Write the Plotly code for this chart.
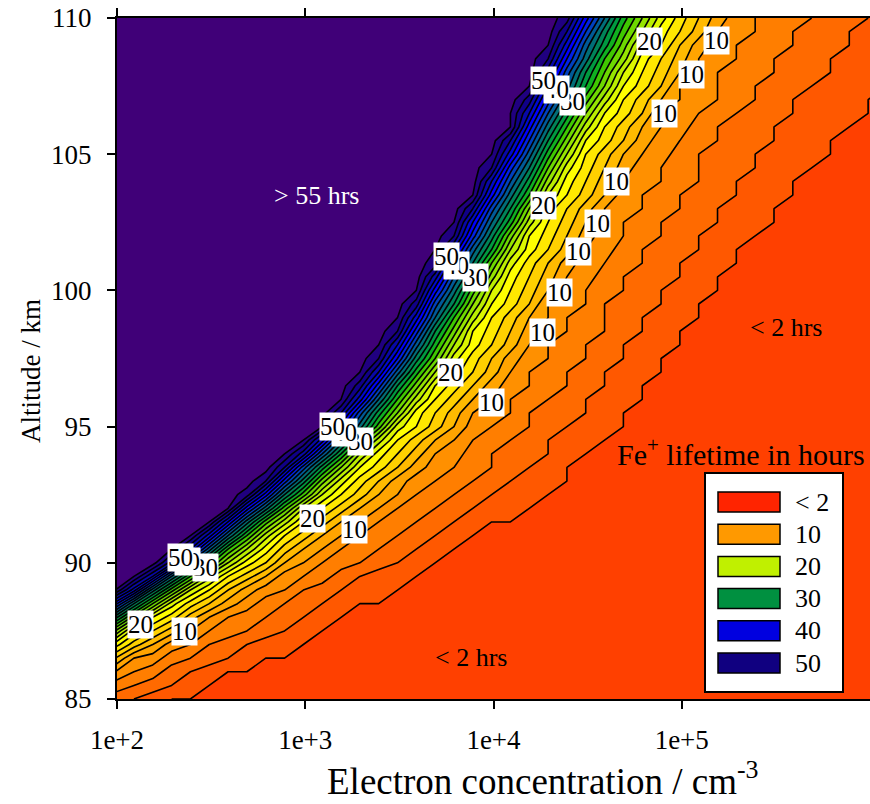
import numpy as np
import plotly.graph_objects as go

# ---------------- data ----------------
# altitude rows (km)
ALT = [85, 87.5, 90, 92.5, 95, 97.5, 100, 102.5, 105, 107.5, 110]
# log10(electron concentration) where each lifetime contour (hours) crosses each row
LEVELS = [54, 50, 40, 30, 20, 10, 8, 6, 4, 2]
POS_54 = [1.12, 1.67, 2.23, 2.68, 3.09, 3.37, 3.60, 3.81, 4.01, 4.20, 4.38]
POS_50 = [1.17, 1.72, 2.28, 2.73, 3.14, 3.42, 3.64, 3.85, 4.05, 4.24, 4.42]
POS_40 = [1.27, 1.82, 2.38, 2.84, 3.25, 3.53, 3.75, 3.96, 4.17, 4.37, 4.55]
POS_30 = [1.38, 1.94, 2.50, 2.97, 3.37, 3.66, 3.88, 4.10, 4.31, 4.52, 4.71]
POS_20 = [1.50, 2.07, 2.65, 3.12, 3.51, 3.80, 4.02, 4.23, 4.44, 4.69, 4.90]
POS_10 = [1.70, 2.37, 2.97, 3.46, 3.85, 4.13, 4.35, 4.56, 4.76, 5.00, 5.22]
POS_8 = [1.81, 2.50, 3.10, 3.61, 4.00, 4.27, 4.50, 4.72, 4.94, 5.19, 5.42]
POS_6 = [1.94, 2.67, 3.25, 3.80, 4.18, 4.45, 4.68, 4.92, 5.13, 5.40, 5.66]
POS_4 = [2.10, 2.87, 3.44, 4.02, 4.40, 4.67, 4.90, 5.16, 5.43, 5.72, 5.98]
POS_2 = [2.29, 3.12, 3.67, 4.30, 4.67, 4.93, 5.17, 5.47, 5.80, 6.14, 6.45]

# model grid of the original calculation (read from the staircase steps):
GRID_LOGX0, GRID_DLOGX, GRID_NX = 1.99, 0.1, 42   # log10 cm^-3
GRID_ALT0, GRID_DALT, GRID_NALT = 85.0, 0.5, 51   # km

# contour labels: text, log10(x), altitude
LBL_TEXT = ["30", "40", "50", "30", "40", "50", "30", "40", "50", "30", "40", "50",
            "20", "20", "20", "20", "20",
            "10", "10", "10", "10", "10", "10", "10", "10", "10", "10", "10"]
LBL_LOGX = [2.468, 2.372, 2.335, 3.296, 3.211, 3.147, 3.907, 3.806, 3.748, 4.417, 4.332, 4.268,
            2.127, 3.036, 3.769, 4.268, 4.831,
            2.361, 3.259, 3.992, 4.258, 4.353, 4.449, 4.555, 4.651, 4.906, 5.054, 5.182]
LBL_ALT = [89.81, 90.03, 90.21, 94.47, 94.77, 94.99, 100.49, 100.90, 101.26, 106.95, 107.36, 107.72,
           87.75, 91.64, 96.97, 103.10, 109.12,
           87.46, 91.24, 95.87, 98.47, 99.94, 101.41, 102.44, 103.98, 106.48, 107.94, 109.19]

LEGEND_TEXT = ["< 2", "10", "20", "30", "40", "50"]
LEGEND_COLORS = ["#FF2400", "#FF9900", "#C0F000", "#009040", "#0000E0", "#100080"]
XTICK_VALS = [1e2, 1e3, 1e4, 1e5]
XTICK_TEXT = ["1e+2", "1e+3", "1e+4", "1e+5"]
YTICK_VALS = [85, 90, 95, 100, 105, 110]

# fill colour of each band (<2, 2-4, ..., 52-54, >54)
BAND_COLORS = ["#FF4000", "#FF5800", "#FF6A00", "#FF7E00", "#FF9000", "#FFA400", "#FFBA00",
               "#FFD000", "#FFE800", "#FFFF00", "#DDF700", "#BBEE00", "#96E400", "#6ED800",
               "#40C800", "#10B020", "#009A40", "#008458", "#006E78", "#005A98", "#0040C0",
               "#0020E8", "#0000FF", "#0008D0", "#0808A8", "#100088", "#200080", "#400078"]

# ---------------- build the (whole-hour) lifetime table on the model grid ----------------
pos_table = np.array([POS_54, POS_50, POS_40, POS_30, POS_20, POS_10, POS_8, POS_6, POS_4, POS_2])
lev = np.array(LEVELS, dtype=float)
logx_grid = GRID_LOGX0 + GRID_DLOGX * np.arange(GRID_NX)
alt_grid = GRID_ALT0 + GRID_DALT * np.arange(GRID_NALT)
Z = np.zeros((len(alt_grid), len(logx_grid)))
for i, a in enumerate(alt_grid):
    p = np.array([np.interp(a, ALT, row) for row in pos_table])
    pp = np.concatenate([[p[0] - 0.3], p, [p[-1] + 0.8]])
    ll = np.concatenate([[58.0], lev, [0.0]])
    Z[i] = np.interp(logx_grid, pp, ll)
Z = np.round(Z)

n = len(BAND_COLORS)
colorscale = [[k / (n - 1), c] for k, c in enumerate(BAND_COLORS)]

FONT = "Liberation Serif, Times New Roman, serif"

fig = go.Figure()
fig.add_trace(go.Contour(
    x=10 ** logx_grid, y=alt_grid, z=Z,
    contours=dict(start=2, end=54, size=2, coloring="fill", showlabels=False),
    colorscale=colorscale, showscale=False,
    line=dict(color="black", width=1.6, smoothing=0),
    hoverinfo="skip",
))

annotations = []
for t, lx, a in zip(LBL_TEXT, LBL_LOGX, LBL_ALT):
    annotations.append(dict(x=lx, y=a, xref="x", yref="y", text=t, showarrow=False,
                            font=dict(family=FONT, size=25, color="black"),
                            bgcolor="white", borderpad=0))

# region texts
annotations += [
    dict(x=3.062, y=103.47, xref="x", yref="y", text="&gt; 55 hrs", showarrow=False,
         font=dict(family=FONT, size=26, color="white")),
    dict(x=5.554, y=98.62, xref="x", yref="y", text="&lt; 2 hrs", showarrow=False,
         font=dict(family=FONT, size=26, color="black")),
    dict(x=3.88, y=86.54, xref="x", yref="y", text="&lt; 2 hrs", showarrow=False,
         font=dict(family=FONT, size=26, color="black")),
    dict(x=(867 - 117) / 753, y=(699 - 452) / 681, xref="paper", yref="paper",
         xanchor="right", yanchor="middle",
         text="Fe<sup>+</sup> lifetime in hours", showarrow=False,
         font=dict(family=FONT, size=30, color="black")),
    dict(x=(543 - 117) / 753, y=(699 - 804) / 681, xref="paper", yref="paper",
         yanchor="bottom",
         text="Electron concentration / cm<sup>-3</sup>", showarrow=False,
         font=dict(family=FONT, size=37, color="black")),
    dict(x=(14 - 117) / 753, y=(699 - 371) / 681, xref="paper", yref="paper",
         text="Altitude / km", textangle=-90, showarrow=False,
         font=dict(family=FONT, size=27, color="black")),
]

# legend box
def px(xp):
    return (xp - 117) / 753

def py(yp):
    return (699 - yp) / 681

shapes = [dict(type="rect", xref="paper", yref="paper",
               x0=px(705), x1=px(843), y0=py(692), y1=py(473),
               fillcolor="white", line=dict(color="black", width=2))]
for k, (t, c) in enumerate(zip(LEGEND_TEXT, LEGEND_COLORS)):
    yc = 502 + k * 32.2
    shapes.append(dict(type="rect", xref="paper", yref="paper",
                       x0=px(718), x1=px(780), y0=py(yc + 10), y1=py(yc - 10),
                       fillcolor=c, line=dict(color="black", width=1.5)))
    annotations.append(dict(x=px(793), y=py(yc), xref="paper", yref="paper",
                            xanchor="left", yanchor="middle", text=t.replace("<", "&lt;"),
                            showarrow=False, font=dict(family=FONT, size=26, color="black")))

fig.update_layout(
    width=870, height=804,
    margin=dict(l=117, r=0, t=18, b=105),
    paper_bgcolor="white", plot_bgcolor="white",
    showlegend=False,
    annotations=annotations, shapes=shapes,
    font=dict(family=FONT, size=26, color="black"),
)
fig.update_xaxes(type="log", range=[2, 6], tickvals=XTICK_VALS, ticktext=XTICK_TEXT,
                 showgrid=False, zeroline=False, showline=True, linecolor="black", linewidth=2,
                 ticks="outside", ticklen=8, tickwidth=2, tickcolor="black", mirror="ticks",
                 tickfont=dict(family=FONT, size=27), ticklabelstandoff=8)
fig.update_yaxes(range=[85, 110], tickvals=YTICK_VALS,
                 showgrid=False, zeroline=False, showline=True, linecolor="black", linewidth=2,
                 ticks="outside", ticklen=8, tickwidth=2, tickcolor="black",
                 tickfont=dict(family=FONT, size=27), ticklabelstandoff=10)

fig.write_html("out.html")
